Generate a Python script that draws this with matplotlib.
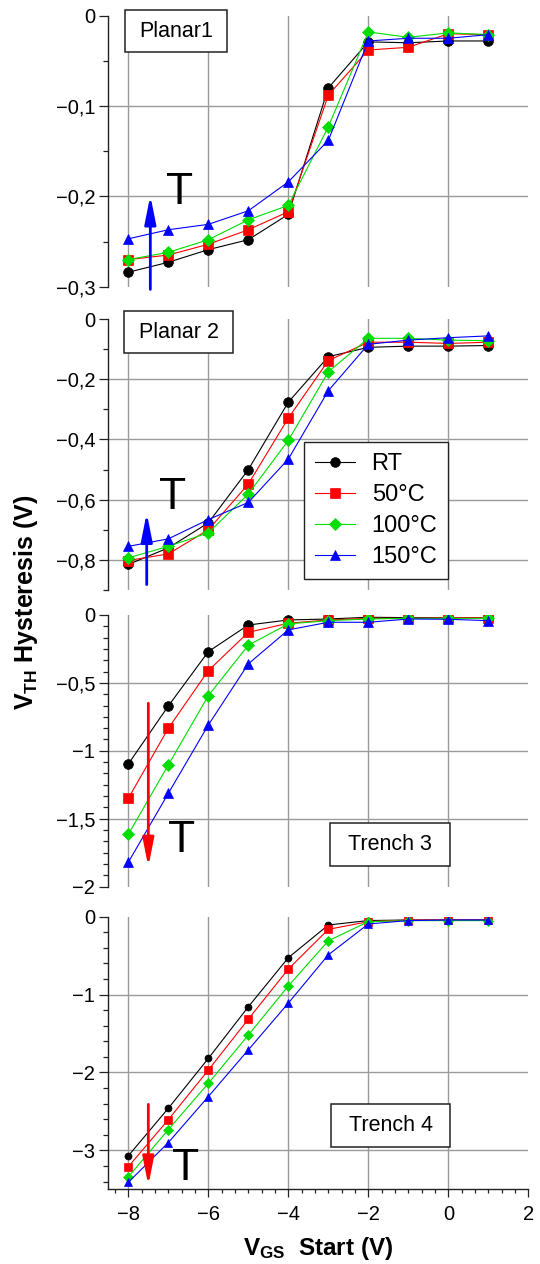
import matplotlib

matplotlib.use("Agg")
import matplotlib.pyplot as plt  # noqa: E402
from matplotlib.patches import FancyArrowPatch, Rectangle  # noqa: E402
from matplotlib.ticker import FuncFormatter, MultipleLocator  # noqa: E402

plt.rcParams["font.family"] = ["Liberation Sans", "DejaVu Sans"]
plt.rcParams["mathtext.fontset"] = "custom"
plt.rcParams["mathtext.rm"] = "Liberation Sans"
plt.rcParams["mathtext.bf"] = "Liberation Sans:bold"
plt.rcParams["mathtext.it"] = "Liberation Sans:italic"

# V_GS start voltage (V)
vgs = [-8, -7, -6, -5, -4, -3, -2, -1, 0, 1]
temps = ["RT", "50°C", "100°C", "150°C"]

# V_TH hysteresis (V), one list per temperature
planar1 = {
    "RT":    [-0.284, -0.273, -0.259, -0.248, -0.220, -0.080, -0.029, -0.030, -0.028, -0.028],
    "50°C":  [-0.270, -0.265, -0.253, -0.237, -0.217, -0.088, -0.038, -0.035, -0.020, -0.021],
    "100°C": [-0.270, -0.262, -0.248, -0.226, -0.210, -0.123, -0.018, -0.024, -0.019, -0.021],
    "150°C": [-0.247, -0.237, -0.231, -0.216, -0.184, -0.138, -0.028, -0.025, -0.025, -0.021],
}
planar2 = {
    "RT":    [-0.815, -0.760, -0.677, -0.500, -0.276, -0.125, -0.094, -0.090, -0.090, -0.088],
    "50°C":  [-0.802, -0.780, -0.700, -0.548, -0.329, -0.138, -0.077, -0.077, -0.081, -0.077],
    "100°C": [-0.793, -0.755, -0.710, -0.581, -0.403, -0.175, -0.064, -0.064, -0.070, -0.072],
    "150°C": [-0.755, -0.730, -0.666, -0.609, -0.465, -0.238, -0.084, -0.070, -0.062, -0.056],
}
trench3 = {
    "RT":    [-1.097, -0.670, -0.270, -0.074, -0.037, -0.030, -0.017, -0.020, -0.020, -0.020],
    "50°C":  [-1.350, -0.834, -0.410, -0.128, -0.061, -0.037, -0.025, -0.025, -0.020, -0.020],
    "100°C": [-1.615, -1.104, -0.594, -0.223, -0.066, -0.042, -0.030, -0.025, -0.025, -0.025],
    "150°C": [-1.820, -1.313, -0.810, -0.360, -0.110, -0.054, -0.054, -0.030, -0.032, -0.042],
}
trench4 = {
    "RT":    [-3.07, -2.46, -1.82, -1.157, -0.527, -0.107, -0.050, -0.043, -0.043, -0.043],
    "50°C":  [-3.21, -2.606, -1.97, -1.316, -0.673, -0.163, -0.064, -0.043, -0.043, -0.043],
    "100°C": [-3.34, -2.734, -2.14, -1.52, -0.890, -0.310, -0.064, -0.051, -0.051, -0.051],
    "150°C": [-3.41, -2.90, -2.31, -1.71, -1.11, -0.490, -0.094, -0.050, -0.043, -0.043],
}

STYLE = {
    "RT":    dict(color="black", marker="o", ms=7.0),
    "50°C":  dict(color="#ff0000", marker="s", ms=7.5),
    "100°C": dict(color="#00dd00", marker="D", ms=6.5),
    "150°C": dict(color="#0000ff", marker="^", ms=7.5),
}
GRID = "#9a9a9a"
INK = "#222222"


def fmt_comma(v, _pos):
    if abs(v) < 1e-9:
        return "0"
    return f"{v:g}".replace(".", ",").replace("-", "\u2212")


# (data, ylim, major step, minor step, marker scale, box label, box extents,
#  arrow x/y0/y1/colour, T baseline position)
panels = [
    (planar1, (-0.3, 0), 0.1, 0.05, 1.0, "Planar1", (-8.09, -5.54, -0.0406, 0.006),
     (-7.45, -0.303, -0.199, "#0000ff"), (-6.72, -0.2083)),
    (planar2, (-0.9, 0), 0.2, 0.1, 1.0, "Planar 2", (-8.10, -5.39, -0.114, 0.0265),
     (-7.54, -0.882, -0.644, "#0000ff"), (-6.90, -0.631)),
    (trench3, (-2, 0), 0.5, 0.5 / 6, 1.0, "Trench 3", (-2.97, 0.04, -1.846, -1.534),
     (-7.50, -0.65, -1.853, "#ff0000"), (-6.66, -1.742)),
    (trench4, (-3.5, 0), 1.0, 0.2, 0.72, "Trench 4", (-2.93, 0.04, -2.958, -2.409),
     (-7.50, -2.41, -3.45, "#ff0000"), (-6.58, -3.378)),
]
# axes rectangles in figure fraction (left, bottom, width, height)
rects = [
    (0.2006, 0.7732, 0.7778, 0.2144),
    (0.2006, 0.5332, 0.7778, 0.2144),
    (0.2006, 0.2985, 0.7778, 0.2150),
    (0.2006, 0.0591, 0.7778, 0.2157),
]
xticks = [-8, -6, -4, -2, 0, 2]
XLIM = (-8.5, 2)

fig = plt.figure(figsize=(5.4, 12.64), dpi=100)
axes = []
for k, (data, ylim, major, minor, mscale, label, box, arrow, tpos) in enumerate(panels):
    ax = fig.add_axes(rects[k])
    axes.append(ax)
    last = k == len(panels) - 1
    for t in temps:
        st = STYLE[t]
        ax.plot(vgs, data[t], color=st["color"], lw=0.8, marker=st["marker"],
                ms=st["ms"] * mscale, mec=st["color"], mew=0.5, label=t, zorder=3)

    ax.set_xlim(*XLIM)
    ax.set_ylim(*ylim)
    n = int(round((ylim[1] - ylim[0]) / major))
    yt = [ylim[1] - i * major for i in range(n + 1)]
    yt = [v for v in yt if v >= ylim[0] - 1e-9]
    ax.set_yticks(yt)
    ax.yaxis.set_minor_locator(MultipleLocator(minor))
    ax.yaxis.set_major_formatter(FuncFormatter(fmt_comma))
    ax.set_xticks(xticks)
    ax.xaxis.set_minor_locator(MultipleLocator(1 / 3))

    # grid only at interior major ticks (none along the axis ends)
    for v in yt:
        if ylim[0] + 1e-9 < v < ylim[1] - 1e-9:
            ax.axhline(v, color=GRID, lw=1.0, zorder=1)
    for v in xticks:
        if XLIM[0] < v < XLIM[1]:
            ax.axvline(v, color=GRID, lw=1.0, zorder=1)

    for s in ("top", "right"):
        ax.spines[s].set_visible(False)
    ax.spines["left"].set_color(INK)
    ax.spines["left"].set_linewidth(1.0)
    ax.tick_params(axis="y", which="major", direction="out", length=6.5, width=0.9,
                   labelsize=14.5, pad=3, color=INK)
    ax.tick_params(axis="y", which="minor", direction="out", length=3.5, width=0.9,
                   color=INK)
    if last:
        ax.spines["bottom"].set_color(INK)
        ax.spines["bottom"].set_linewidth(1.0)
        ax.tick_params(axis="x", which="major", direction="out", length=5.5, width=0.9,
                       labelsize=14.5, pad=6, color=INK)
        ax.tick_params(axis="x", which="minor", direction="out", length=3.2, width=0.9,
                       color=INK)
    else:
        ax.spines["bottom"].set_visible(False)
        ax.tick_params(axis="x", which="both", length=0, labelbottom=False)

    # label box
    x0, x1, y0, y1 = box
    ax.add_patch(Rectangle((x0, y0), x1 - x0, y1 - y0, fill=True, fc="white",
                           ec=INK, lw=1.1, zorder=4, clip_on=False))
    ax.text((x0 + x1) / 2, (y0 + y1) / 2, label, ha="center", va="center",
            fontsize=15.5, zorder=5)

    # temperature arrow + "T"
    ax_x, ay0, ay1, acol = arrow
    ax.add_patch(FancyArrowPatch((ax_x, ay0), (ax_x, ay1),
                                 arrowstyle="-|>,head_length=0.85,head_width=0.17",
                                 mutation_scale=20, color=acol, lw=2.0,
                                 shrinkA=0, shrinkB=0, zorder=6, clip_on=False))
    ax.text(tpos[0], tpos[1], "T", ha="center", va="baseline", fontsize=32, zorder=6)

# legend in the Planar 2 panel
leg = axes[1].legend(loc="upper left", bbox_to_anchor=(-3.6, -0.41),
                     bbox_transform=axes[1].transData, borderaxespad=0,
                     fontsize=17, frameon=True, fancybox=False, framealpha=1,
                     edgecolor=INK, handlelength=1.7, handletextpad=0.7,
                     labelspacing=0.38, borderpad=0.45)
leg.get_frame().set_linewidth(1.0)
leg.set_zorder(7)

axes[-1].set_xlabel(r"$\mathbf{V_{GS}}$  Start (V)", fontsize=17.5, fontweight="bold",
                    labelpad=8)
fig.text(26 / 540, 1 - 602 / 1264, r"$\mathbf{V_{TH}}$ Hysteresis (V)", rotation=90,
         fontsize=18, fontweight="bold", ha="center", va="center")

fig.savefig("out.png", dpi=100)
